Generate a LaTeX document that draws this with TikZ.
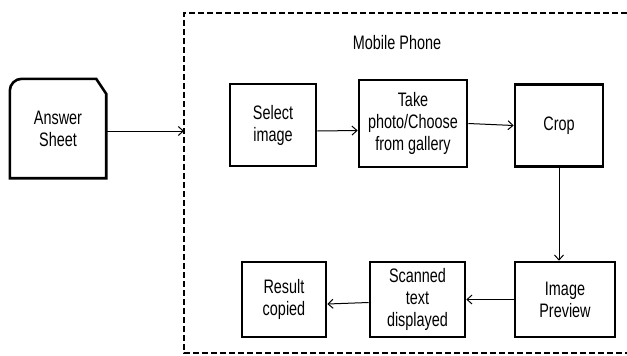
\documentclass[tikz,border=0pt]{standalone}
\usepackage{fontspec}
\setmainfont{Liberation Sans}[FakeStretch=0.74]
\usetikzlibrary{arrows.meta}
\begin{document}
\begin{tikzpicture}[x=1pt,y=-1pt,
  every node/.style={font=\fontsize{19.5}{22}\selectfont, align=center, inner sep=0pt},
  stepbox/.style={draw, line width=2.6pt, minimum width=#1},
  rowtop/.style={minimum height=82pt},
  rowbot/.style={minimum height=75pt},
  arr/.style={line width=1pt, -{Straight Barb[length=5pt,width=9pt]}},
  frame/.style={line width=2.4pt, dash pattern=on 6pt off 3pt}]
\useasboundingbox (0,0) rectangle (627,356);

% Answer sheet document shape
\node (sheet) [minimum width=96pt, minimum height=99pt] at (58,128.5) {Answer\\Sheet};
\draw[line width=2.6pt, line join=miter]
  (sheet.south west) -- ([yshift=-12pt]sheet.north west)
  arc[start angle=180, end angle=90, radius=12pt]
  -- ([xshift=-10pt]sheet.north east) -- ([yshift=-15pt]sheet.north east)
  -- (sheet.south east) -- cycle;

% Mobile phone boundary (open to the right)
\coordinate (entry) at (184,131);
\draw[frame] (627,13) -- (184,13) -- (184,353) -- (627,353);
\node (title) at (397,43) {Mobile Phone};

% Processing steps
\node (sel)  [stepbox=86pt, rowtop] at (273,125) {Select\\image};
\node (take) [stepbox=108pt, minimum height=87pt] at (413,123.5) {Take\\photo/Choose\\from gallery};
\node (crop) [stepbox=88pt, rowtop] at (559,125.5) {Crop};
\node (res)  [stepbox=84pt, rowbot] at (284,299.5) {Result\\copied};
\node (scan) [stepbox=95pt, rowbot] at (417.5,299.5) {Scanned\\text\\displayed};
\node (prev) [stepbox=100pt, rowbot] at (565,299.5) {Image\\Preview};

% Connectors
\draw[arr] (sheet.east |- entry) -- (entry);
\draw[arr] ([yshift=-6pt]sel.east) -- ([yshift=-7pt]take.west);
\draw[arr] (take.east) -- (crop.west);
\draw[arr] (crop.south) -- (crop.south |- prev.north);
\draw[arr] (prev.west) -- (scan.east);
\draw[arr] ([yshift=-3pt]scan.west) -- ([yshift=-4.5pt]res.east);
\end{tikzpicture}
\end{document}
